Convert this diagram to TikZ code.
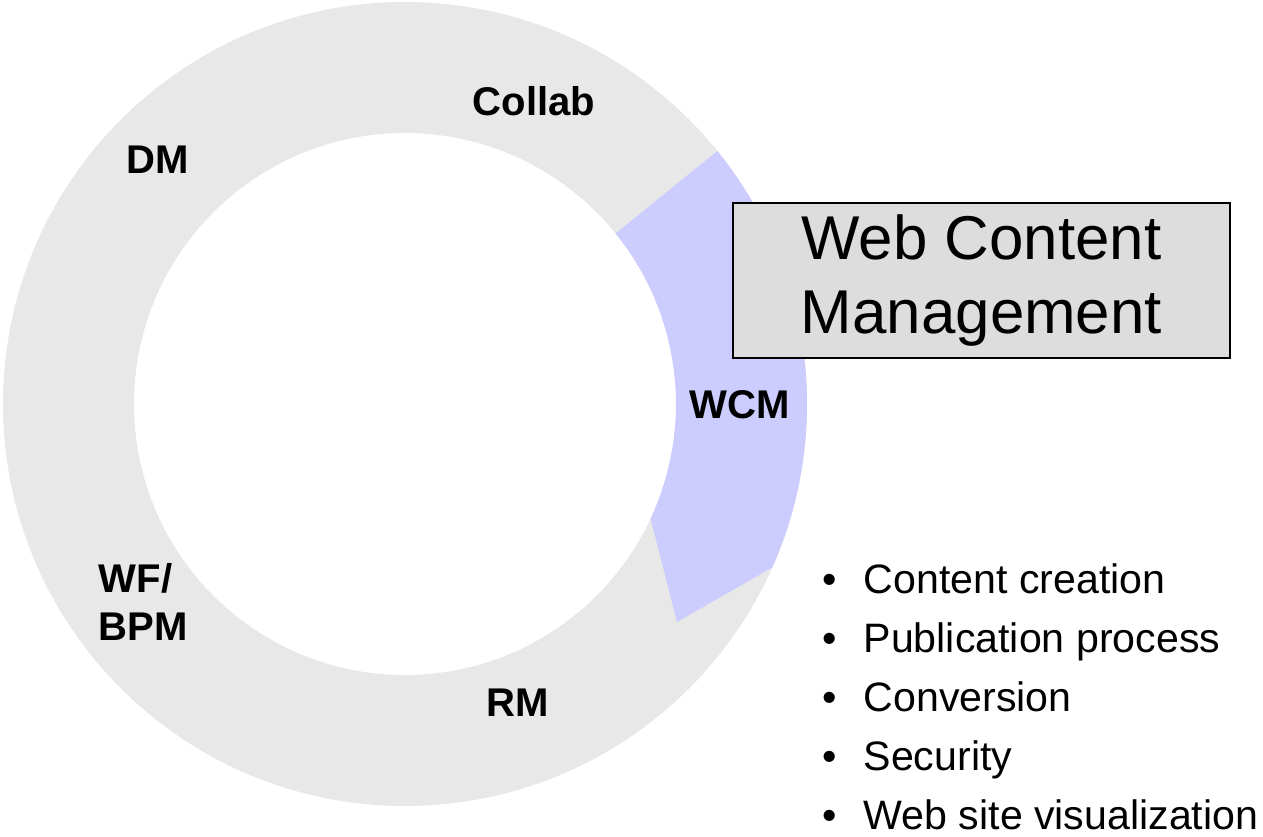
\documentclass[tikz,border=0pt]{standalone}
\usepackage{fontspec}
\setmainfont{Liberation Sans}
\usepackage{tikz}
\usetikzlibrary{calc}
\usepackage{color}
\definecolor{ringgray}{RGB}{232, 232, 232}
\definecolor{wcmblue}{RGB}{204, 204, 255}
\definecolor{boxgray}{RGB}{221, 221, 221}

\tikzset{
    ringlabel/.style={font=\fontsize{11.4}{13.7}\selectfont\bfseries, inner sep=0pt},
    titlebox/.style={draw=black, line width=0.8pt, fill=boxgray, align=center,
                     minimum width=4.97cm, minimum height=1.55cm, inner sep=0pt,
                     font=\fontsize{17.6}{21.3}\selectfont},
    bulletitem/.style={font=\fontsize{11.7}{14}\selectfont, inner sep=0pt}
}

\begin{document}
\begin{tikzpicture}
            \useasboundingbox (0.00, 0.00) rectangle (12.63, 8.36);
            \coordinate (ctr) at (4.05, 4.32);
            % ring and the highlighted WCM segment
            \fill[ringgray, even odd rule]                                (ctr) circle (4.02) (ctr) circle (2.71);
            \fill[wcmblue] ($(ctr)+(39:4.02)$) arc[start angle=39, end angle=-24, radius=4.02]
                 -- (6.77, 2.14) -- ($(ctr)+(-25:2.71)$) arc[start angle=-25, end angle=39, radius=2.71] -- cycle;
            % segment labels
            \node[ringlabel] (collab) at (5.34, 7.35) {Collab};
            \node[ringlabel] (dm)     at (1.58, 6.76) {DM};
            \node[ringlabel] (wcm)    at (7.40, 4.31) {WCM};
            \node[ringlabel] (rm)     at (5.18, 1.33) {RM};
            \node[ringlabel, anchor=west, align=left] (wfbpm) at (0.98, 2.34) {WF/\\BPM};
            % title box
            \node[titlebox] (wcmtitle) at (9.815, 5.555) {Web Content\\Management};
            % feature list
            \foreach \txt [count=\i] in {Content creation, Publication process, Conversion, Security, Web site visualization}
                 \node[bulletitem, anchor=base west] (item\i) at (8.22, {2.43-(\i-1)*0.59}) {\makebox[0.41cm][l]{\textbullet}\txt};
        \end{tikzpicture}
\end{document}
